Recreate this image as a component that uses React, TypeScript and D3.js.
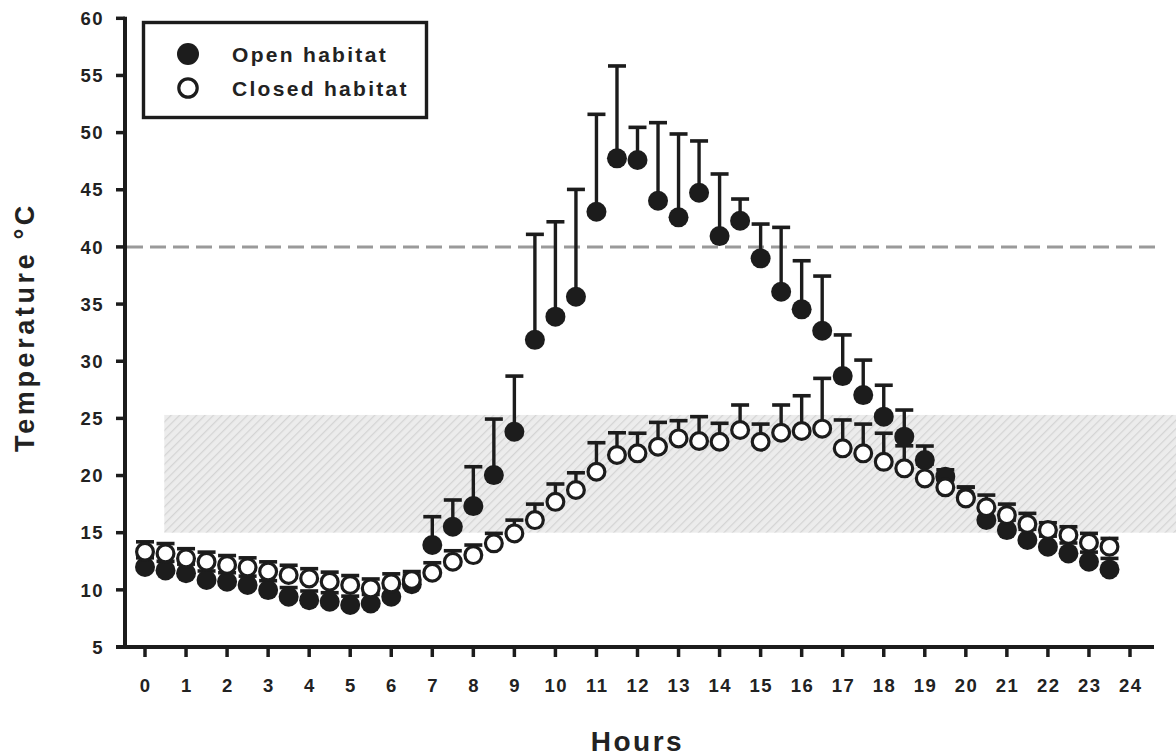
import React from "react";
import * as d3 from "d3";

const hours = [0, 0.5, 1, 1.5, 2, 2.5, 3, 3.5, 4, 4.5, 5, 5.5, 6, 6.5, 7, 7.5, 8, 8.5, 9, 9.5, 10, 10.5, 11, 11.5, 12, 12.5, 13, 13.5, 14, 14.5, 15, 15.5, 16, 16.5, 17, 17.5, 18, 18.5, 19, 19.5, 20, 20.5, 21, 21.5, 22, 22.5, 23, 23.5];

const openMean = [12.0, 11.7, 11.45, 10.86, 10.71, 10.42, 9.98, 9.4, 9.1, 8.96, 8.67, 8.81, 9.4, 10.5, 13.92, 15.52, 17.33, 20.04, 23.83, 31.87, 33.9, 35.64, 43.08, 47.75, 47.6, 44.04, 42.59, 44.74, 40.95, 42.29, 39.0, 36.08, 34.54, 32.67, 28.7, 27.04, 25.15, 23.4, 21.35, 19.9, 18.1, 16.11, 15.23, 14.36, 13.77, 13.19, 12.46, 11.79];
const openUpper = [12.8, 12.5, 12.25, 11.65, 11.5, 11.2, 10.8, 10.2, 9.9, 9.75, 9.45, 9.6, 10.2, 11.3, 16.4, 17.86, 20.77, 24.94, 28.7, 41.1, 42.2, 45.03, 51.6, 55.83, 50.46, 50.87, 49.88, 49.27, 46.38, 44.19, 42.0, 41.71, 38.79, 37.45, 32.3, 30.1, 27.9, 25.73, 22.58, 20.5, 18.97, 17.0, 16.1, 15.3, 14.7, 14.1, 13.3, 12.75];

const closedMean = [13.33, 13.19, 12.75, 12.46, 12.17, 11.97, 11.6, 11.3, 11.0, 10.71, 10.42, 10.13, 10.57, 10.86, 11.5, 12.46, 13.04, 14.07, 14.94, 16.1, 17.7, 18.73, 20.33, 21.8, 21.94, 22.52, 23.25, 23.02, 22.96, 23.98, 22.96, 23.74, 23.9, 24.1, 22.38, 21.94, 21.2, 20.63, 19.75, 18.97, 18.0, 17.22, 16.54, 15.76, 15.23, 14.8, 14.12, 13.77];
const closedUpper = [14.2, 14.05, 13.6, 13.3, 13.0, 12.8, 12.45, 12.15, 11.85, 11.55, 11.25, 10.95, 11.4, 11.6, 12.37, 13.42, 13.92, 14.94, 16.1, 17.5, 19.26, 20.24, 22.87, 23.74, 23.7, 24.65, 24.8, 25.15, 24.57, 26.17, 24.5, 26.17, 26.98, 28.5, 24.86, 24.5, 23.7, 22.6, 21.0, 20.0, 19.0, 18.29, 17.5, 16.69, 15.87, 15.52, 14.94, 14.5];

const xTicks = [0, 1, 2, 3, 4, 5, 6, 7, 8, 9, 10, 11, 12, 13, 14, 15, 16, 17, 18, 19, 20, 21, 22, 23, 24];
const yTicks = [5, 10, 15, 20, 25, 30, 35, 40, 45, 50, 55, 60];
const referenceLine = 40;
const bandRange = [15, 25.3];
const bandStartHour = 0.47;
const legendLabels = ["Open habitat", "Closed habitat"];

export default function App() {
  const x = d3.scaleLinear().domain([0, 24]).range([145, 1130]);
  const y = d3.scaleLinear().domain([5, 60]).range([647, 18.3]);
  const font = "'Liberation Sans', Arial, Helvetica, sans-serif";
  const ink = "#1c1c1c";

  const errorBars = (means: number[], uppers: number[], key: string) =>
    hours.map((h, i) => {
      const cx = x(h);
      const y0 = y(means[i]);
      const y1 = y(uppers[i]);
      return (
        <g key={key + i}>
          <line x1={cx} x2={cx} y1={y0} y2={y1} stroke={ink} strokeWidth={3.4} />
          <line x1={cx - 9} x2={cx + 9} y1={y1} y2={y1} stroke={ink} strokeWidth={3.6} />
        </g>
      );
    });

  return (
    <svg width={1176} height={756} style={{ position: "absolute", left: 0, top: 0, background: "#fff" }}>
      <defs>
        <pattern id="hatch" patternUnits="userSpaceOnUse" width={6} height={6} patternTransform="rotate(45)">
          <rect width={6} height={6} fill="#ececec" />
          <line x1={0} y1={0} x2={0} y2={6} stroke="#d4d4d4" strokeWidth={2.5} />
        </pattern>
      </defs>

      {/* comfort band */}
      <rect
        x={x(bandStartHour)}
        y={y(bandRange[1])}
        width={1176 - x(bandStartHour)}
        height={y(bandRange[0]) - y(bandRange[1])}
        fill="url(#hatch)"
      />

      {/* reference dashed line */}
      <line
        x1={127}
        x2={1155}
        y1={y(referenceLine)}
        y2={y(referenceLine)}
        stroke="#9a9a9a"
        strokeWidth={3}
        strokeDasharray="16 7"
      />

      {/* axes */}
      <line x1={125} x2={125} y1={y(60) - 1.5} y2={y(5) + 2} stroke={ink} strokeWidth={4} />
      <line x1={116} x2={1154} y1={y(5)} y2={y(5)} stroke={ink} strokeWidth={4} />
      {yTicks.map((t) => (
        <g key={"yt" + t}>
          <line x1={116} x2={125} y1={y(t)} y2={y(t)} stroke={ink} strokeWidth={3.5} />
          <text
            x={104}
            y={y(t)}
            dy="0.36em"
            textAnchor="end"
            fontFamily={font}
            fontWeight="bold"
            fontSize={18.5}
            letterSpacing={1.5}
            fill="#222"
          >
            {t}
          </text>
        </g>
      ))}
      {xTicks.map((t) => (
        <g key={"xt" + t}>
          <line x1={x(t)} x2={x(t)} y1={y(5)} y2={y(5) + 10} stroke={ink} strokeWidth={3.5} />
          <text
            x={x(t) + 0.75}
            y={692}
            textAnchor="middle"
            fontFamily={font}
            fontWeight="bold"
            fontSize={18.5}
            letterSpacing={1.5}
            fill="#222"
          >
            {t}
          </text>
        </g>
      ))}

      {/* axis titles */}
      <text
        x={x(12)}
        y={751}
        textAnchor="middle"
        fontFamily={font}
        fontWeight="bold"
        fontSize={28}
        letterSpacing={2.5}
        fill="#222"
      >
        Hours
      </text>
      <text
        transform={`translate(34, 327) rotate(-90)`}
        textAnchor="middle"
        fontFamily={font}
        fontWeight="bold"
        fontSize={27}
        letterSpacing={3.6}
        fill="#222"
      >
        Temperature °C
      </text>

      {/* error bars */}
      {errorBars(closedMean, closedUpper, "ce")}
      {errorBars(openMean, openUpper, "oe")}

      {/* markers */}
      {hours.map((h, i) => (
        <circle key={"om" + i} cx={x(h)} cy={y(openMean[i])} r={10} fill={ink} />
      ))}
      {hours.map((h, i) => (
        <circle
          key={"cm" + i}
          cx={x(h)}
          cy={y(closedMean[i])}
          r={8.4}
          fill="#fff"
          stroke={ink}
          strokeWidth={3.2}
        />
      ))}

      {/* legend */}
      <rect x={143.5} y={22.5} width={283} height={95} fill="#fff" stroke={ink} strokeWidth={3.4} />
      <circle cx={188} cy={54} r={11} fill={ink} />
      <circle cx={188} cy={88} r={9.2} fill="#fff" stroke={ink} strokeWidth={3.2} />
      <text x={232} y={62} fontFamily={font} fontWeight="bold" fontSize={21} letterSpacing={2.3} fill="#222">
        {legendLabels[0]}
      </text>
      <text x={232} y={96} fontFamily={font} fontWeight="bold" fontSize={21} letterSpacing={2.3} fill="#222">
        {legendLabels[1]}
      </text>
    </svg>
  );
}
